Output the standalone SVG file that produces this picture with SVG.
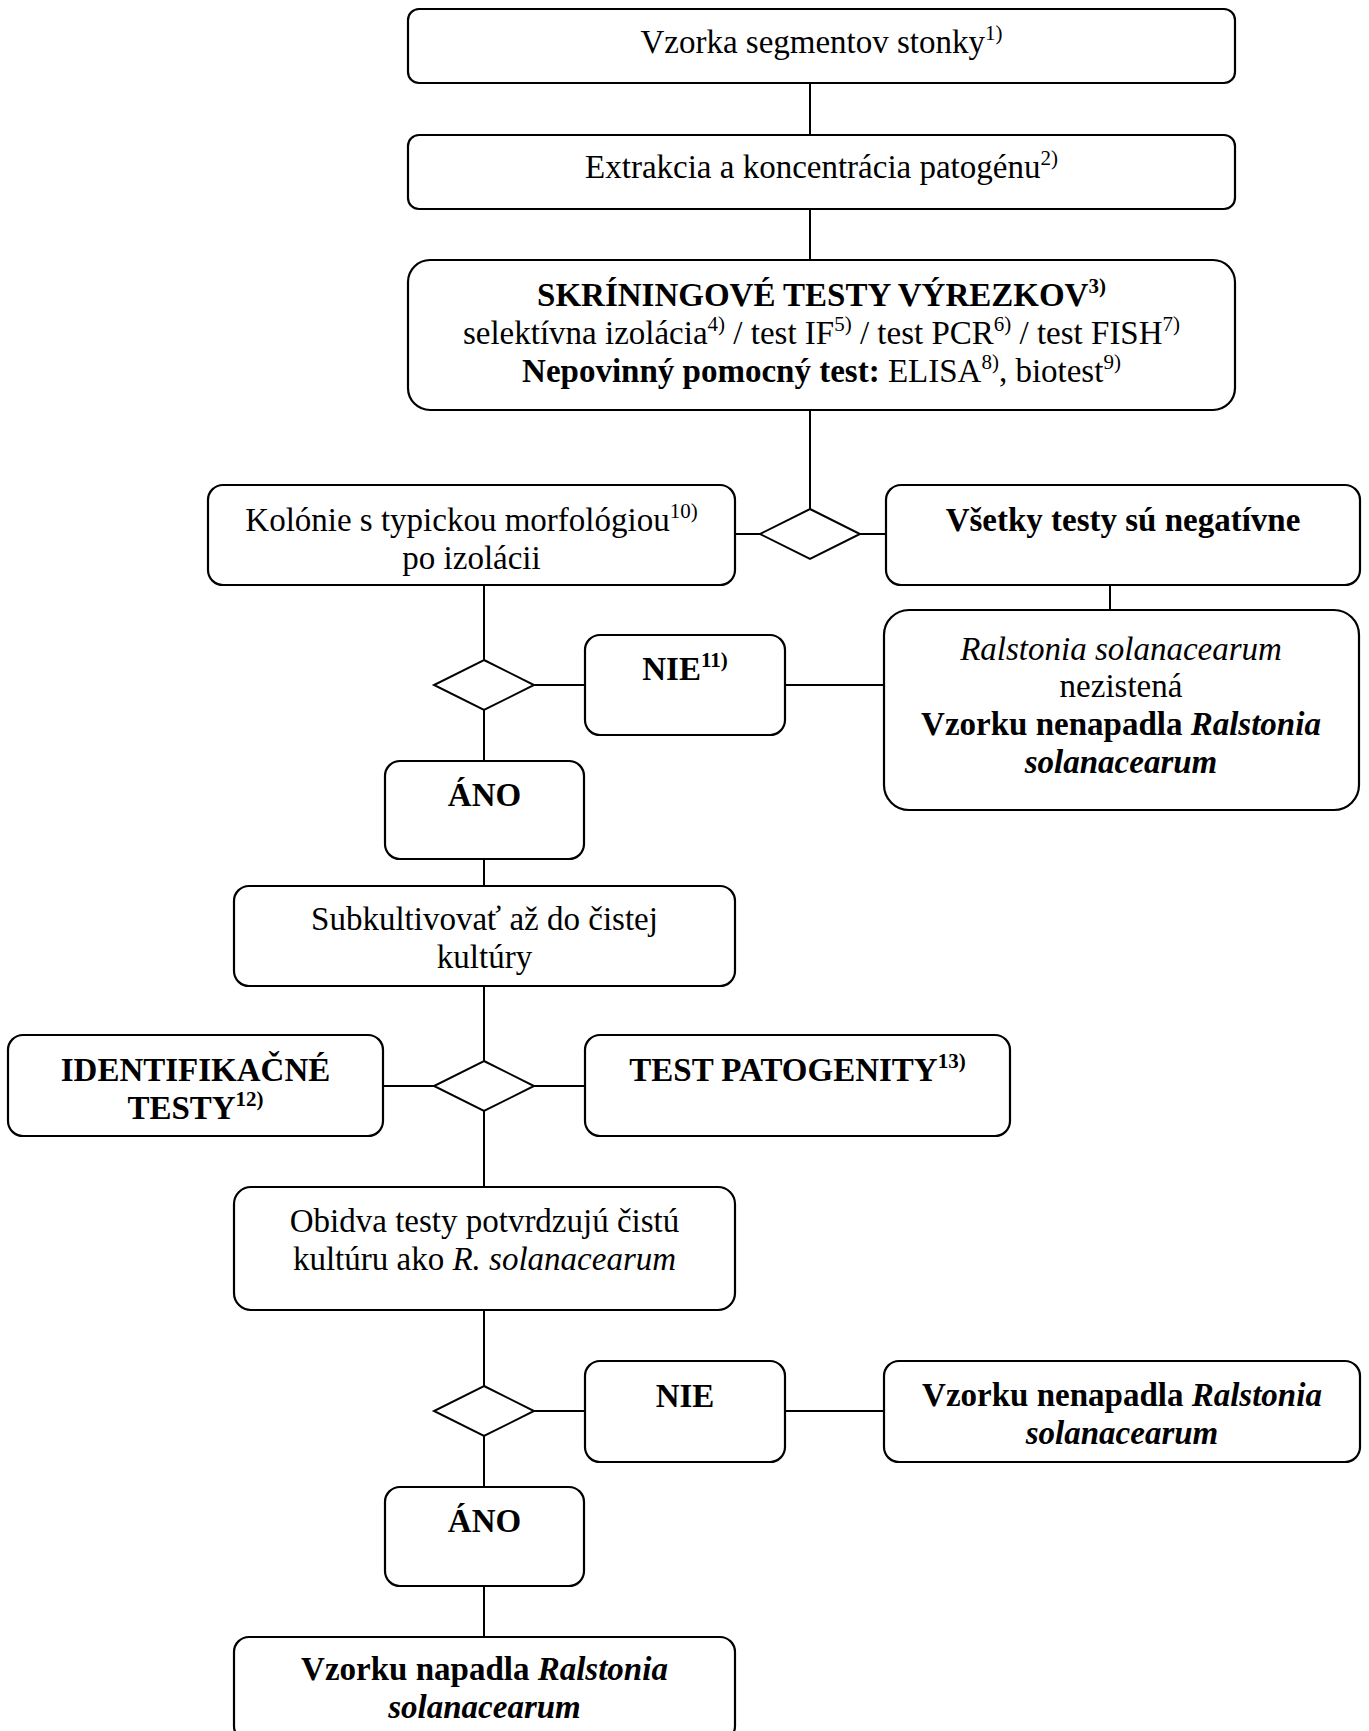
<svg xmlns="http://www.w3.org/2000/svg" width="1369" height="1731" viewBox="0 0 1369 1731">
<style>
.box{fill:#fff;stroke:#000;stroke-width:2.2}
.dia{fill:#fff;stroke:#000;stroke-width:2}
.conn line{stroke:#000;stroke-width:2}
text{font-family:"Liberation Serif","Times New Roman",serif;font-size:33px;text-anchor:middle;fill:#000}
.b{font-weight:bold}
.i{font-style:italic}
.sup{font-size:21px}
</style>
<rect width="1369" height="1731" fill="#fff"/>
<g class="conn">
<line x1="810" y1="83" x2="810" y2="135"/>
<line x1="810" y1="209" x2="810" y2="260"/>
<line x1="810" y1="410" x2="810" y2="509"/>
<line x1="735" y1="534" x2="760" y2="534"/>
<line x1="860" y1="534" x2="886" y2="534"/>
<line x1="1110" y1="585" x2="1110" y2="610"/>
<line x1="484" y1="585" x2="484" y2="660"/>
<line x1="534" y1="685" x2="585" y2="685"/>
<line x1="785" y1="685" x2="884" y2="685"/>
<line x1="484" y1="710" x2="484" y2="761"/>
<line x1="484" y1="859" x2="484" y2="886"/>
<line x1="484" y1="986" x2="484" y2="1061"/>
<line x1="383" y1="1086" x2="434" y2="1086"/>
<line x1="534" y1="1086" x2="585" y2="1086"/>
<line x1="484" y1="1111" x2="484" y2="1187"/>
<line x1="484" y1="1310" x2="484" y2="1386"/>
<line x1="534" y1="1411" x2="585" y2="1411"/>
<line x1="785" y1="1411" x2="884" y2="1411"/>
<line x1="484" y1="1436" x2="484" y2="1487"/>
<line x1="484" y1="1586" x2="484" y2="1637"/>
</g>
<g id="d1"><polygon class="dia" points="810,509 860,534 810,559 760,534"/></g>
<g id="d2"><polygon class="dia" points="484,660 534,685 484,710 434,685"/></g>
<g id="d3"><polygon class="dia" points="484,1061 534,1086 484,1111 434,1086"/></g>
<g id="d4"><polygon class="dia" points="484,1386 534,1411 484,1436 434,1411"/></g>
<g id="n1"><rect class="box" x="408" y="9" width="827" height="74" rx="11"/>
<text x="821.5" y="53">Vzorka segmentov stonky<tspan class="sup" dy="-13">1)</tspan></text></g>
<g id="n2"><rect class="box" x="408" y="135" width="827" height="74" rx="11"/>
<text x="821.5" y="178">Extrakcia a koncentrácia patogénu<tspan class="sup" dy="-13">2)</tspan></text></g>
<g id="n3"><rect class="box" x="408" y="260" width="827" height="150" rx="22"/>
<text x="821.5" y="306" class="b">SKRÍNINGOVÉ TESTY VÝREZKOV<tspan class="sup" dy="-13">3)</tspan></text>
<text x="821.5" y="344">selektívna izolácia<tspan class="sup" dy="-13">4)</tspan><tspan dy="13"> / test IF</tspan><tspan class="sup" dy="-13">5)</tspan><tspan dy="13"> / test PCR</tspan><tspan class="sup" dy="-13">6)</tspan><tspan dy="13"> / test FISH</tspan><tspan class="sup" dy="-13">7)</tspan></text>
<text x="821.5" y="382"><tspan class="b">Nepovinný pomocný test:</tspan> ELISA<tspan class="sup" dy="-13">8)</tspan><tspan dy="13">, biotest</tspan><tspan class="sup" dy="-13">9)</tspan></text></g>
<g id="n4"><rect class="box" x="208" y="485" width="527" height="100" rx="15"/>
<text x="471.5" y="531">Kolónie s typickou morfológiou<tspan class="sup" dy="-13">10)</tspan></text>
<text x="471.5" y="569">po izolácii</text></g>
<g id="n5"><rect class="box" x="886" y="485" width="474" height="100" rx="15"/>
<text x="1123" y="531" class="b">Všetky testy sú negatívne</text></g>
<g id="n6"><rect class="box" x="884" y="610" width="475" height="200" rx="25"/>
<text x="1121" y="660" class="i">Ralstonia solanacearum</text>
<text x="1121" y="697">nezistená</text>
<text x="1121" y="735" class="b">Vzorku nenapadla <tspan class="i">Ralstonia</tspan></text>
<text x="1121" y="773" class="b i">solanacearum</text></g>
<g id="n7"><rect class="box" x="585" y="635" width="200" height="100" rx="15"/>
<text x="685" y="680" class="b">NIE<tspan class="sup" dy="-13">11)</tspan></text></g>
<g id="n8"><rect class="box" x="385" y="761" width="199" height="98" rx="15"/>
<text x="484.5" y="806" class="b">ÁNO</text></g>
<g id="n9"><rect class="box" x="234" y="886" width="501" height="100" rx="15"/>
<text x="484.5" y="930">Subkultivovať až do čistej</text>
<text x="484.5" y="968">kultúry</text></g>
<g id="n10"><rect class="box" x="8" y="1035" width="375" height="101" rx="15"/>
<text x="195.5" y="1081" class="b">IDENTIFIKAČNÉ</text>
<text x="195.5" y="1119" class="b">TESTY<tspan class="sup" dy="-13">12)</tspan></text></g>
<g id="n11"><rect class="box" x="585" y="1035" width="425" height="101" rx="15"/>
<text x="797.5" y="1081" class="b">TEST PATOGENITY<tspan class="sup" dy="-13">13)</tspan></text></g>
<g id="n12"><rect class="box" x="234" y="1187" width="501" height="123" rx="17"/>
<text x="484.5" y="1232">Obidva testy potvrdzujú čistú</text>
<text x="484.5" y="1270">kultúru ako <tspan class="i">R. solanacearum</tspan></text></g>
<g id="n13"><rect class="box" x="585" y="1361" width="200" height="101" rx="15"/>
<text x="685" y="1407" class="b">NIE</text></g>
<g id="n14"><rect class="box" x="884" y="1361" width="476" height="101" rx="15"/>
<text x="1122" y="1406" class="b">Vzorku nenapadla <tspan class="i">Ralstonia</tspan></text>
<text x="1122" y="1444" class="b i">solanacearum</text></g>
<g id="n15"><rect class="box" x="385" y="1487" width="199" height="99" rx="15"/>
<text x="484.5" y="1532" class="b">ÁNO</text></g>
<g id="n16"><rect class="box" x="234" y="1637" width="501" height="104" rx="15"/>
<text x="484.5" y="1680" class="b">Vzorku napadla <tspan class="i">Ralstonia</tspan></text>
<text x="484.5" y="1718" class="b i">solanacearum</text></g>
</svg>
